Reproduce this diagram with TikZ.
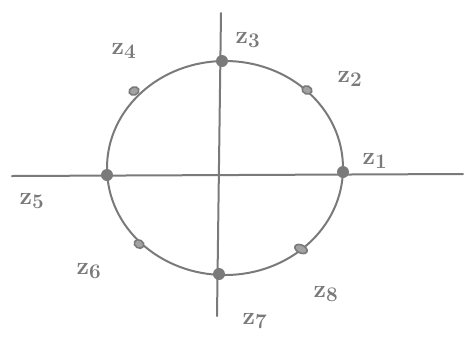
\documentclass[tikz,border=0pt]{standalone}
\usetikzlibrary{calc,shapes.geometric}
\definecolor{pen}{HTML}{7A7A7A}
\begin{document}
\begin{tikzpicture}[x=1pt,y=-1pt,
  stroke/.style={draw=pen,line width=2pt,line cap=round},
  bigdot/.style={circle,fill=pen,inner sep=0pt,minimum size=12pt},
  smalldot/.style={ellipse,draw=pen,fill=pen!70,line width=1.6pt,inner sep=0pt,minimum width=10pt,minimum height=8pt},
  lbl/.style={text=pen,font=\fontsize{30}{32}\selectfont\bfseries,inner sep=0pt}]
\useasboundingbox (0,0) rectangle (475,360);
% axes
\coordinate (xl) at (12,176);
\coordinate (xr) at (463,174);
\coordinate (yt) at (221,13);
\coordinate (yb) at (217,316);
\draw[stroke] (xl) -- (xr);
\draw[stroke] (yt) -- (yb);
% circle
\coordinate (c) at (225,168);
\draw[stroke] (c) ellipse [x radius=118, y radius=107];
% points
\node[bigdot] (p1) at (343,172) {};
\node[smalldot,rotate=-20] (p2) at (307,90) {};
\node[bigdot] (p3) at (222,61) {};
\node[smalldot,rotate=20] (p4) at (134,91) {};
\node[bigdot] (p5) at (107,175) {};
\node[smalldot,rotate=-30] (p6) at (139,244) {};
\node[bigdot] (p7) at (219,274) {};
\node[smalldot,rotate=-25,minimum width=13pt] (p8) at (301,249) {};
% labels
\node[lbl] (z1) at (375,161) {$\mathbf{z}_{\mathbf{1}}$};
\node[lbl] (z2) at (350,79) {$\mathbf{z}_{\mathbf{2}}$};
\node[lbl] (z3) at (248,40) {$\mathbf{z}_{\mathbf{3}}$};
\node[lbl] (z4) at (124,51) {$\mathbf{z}_{\mathbf{4}}$};
\node[lbl] (z5) at (32,201) {$\mathbf{z}_{\mathbf{5}}$};
\node[lbl] (z6) at (89,271) {$\mathbf{z}_{\mathbf{6}}$};
\node[lbl] (z7) at (255,321) {$\mathbf{z}_{\mathbf{7}}$};
\node[lbl] (z8) at (326,294) {$\mathbf{z}_{\mathbf{8}}$};
\end{tikzpicture}
\end{document}
